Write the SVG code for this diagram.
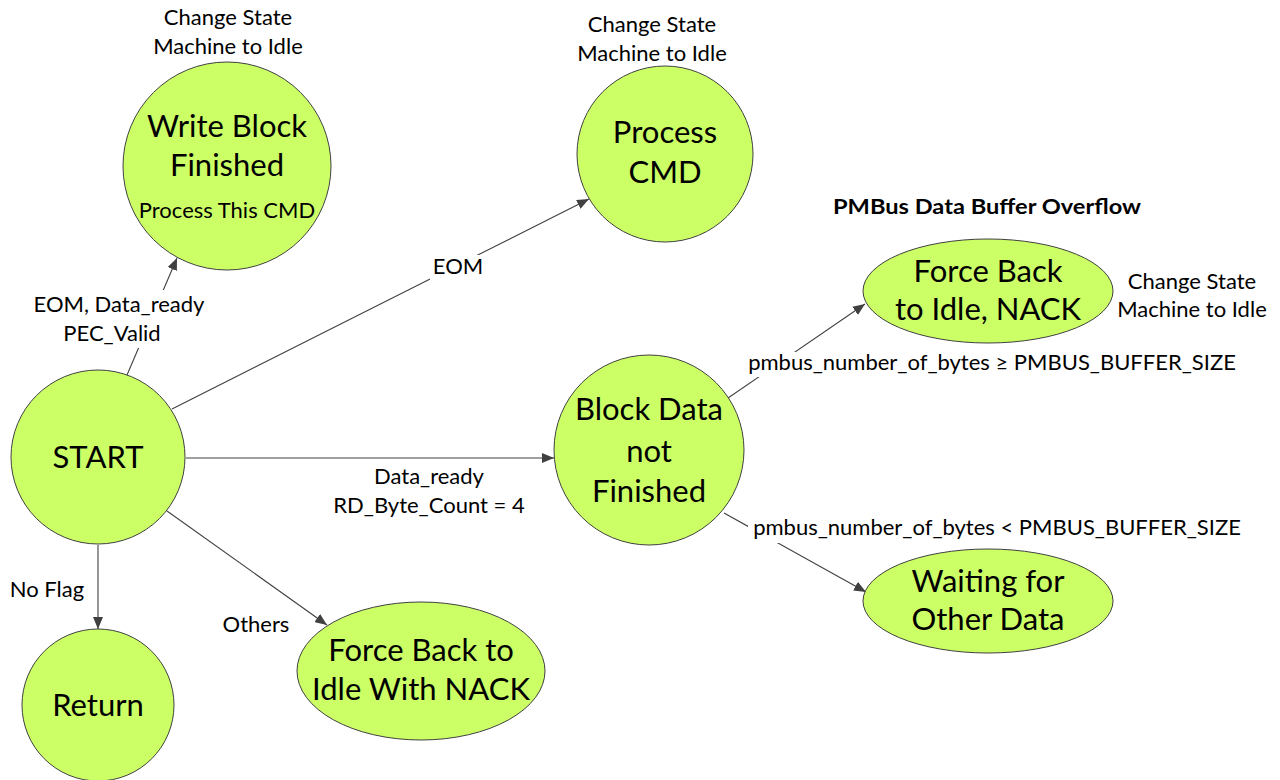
<svg xmlns="http://www.w3.org/2000/svg" width="1280" height="780" viewBox="0 0 1280 780">
<style>
.node{fill:#ccff66;stroke:#404040;stroke-width:1}
.big{font-family:Lato,"Open Sans",sans-serif;font-size:31px;fill:#000;text-anchor:middle}
.lbl{font-family:Lato,"Open Sans",sans-serif;font-size:22px;fill:#000;text-anchor:middle}
.bold{font-family:Lato,"Open Sans",sans-serif;font-size:20px;font-weight:bold;fill:#000;text-anchor:middle}
.edge{stroke:#404040;stroke-width:1.1;fill:none;marker-end:url(#arr)}
.bg{fill:#fff}
</style>
<defs>
<marker id="arr" markerWidth="12" markerHeight="10" refX="12" refY="5" orient="auto" markerUnits="userSpaceOnUse">
<path d="M0,0 L12,5 L0,10 Z" fill="#404040"/>
</marker>
</defs>
<rect width="1280" height="780" fill="#fff"/>
<g id="connectors">
<line class="edge" x1="127" y1="375" x2="177" y2="258"/>
<line class="edge" x1="172" y1="409" x2="589" y2="199"/>
<line class="edge" x1="186" y1="458" x2="554" y2="458"/>
<line class="edge" x1="167" y1="511" x2="327" y2="625"/>
<line class="edge" x1="98" y1="545" x2="98" y2="629"/>
<line class="edge" x1="728" y1="398" x2="865" y2="304"/>
<line class="edge" x1="724" y1="513" x2="866" y2="592"/>
</g>
<g id="edge-labels">
<rect class="bg" x="28" y="290" width="184" height="58"/>
<text class="lbl" x="119" y="312">EOM, Data_ready</text>
<text class="lbl" x="112" y="341">PEC_Valid</text>
<rect class="bg" x="430" y="255" width="56" height="27"/>
<text class="lbl" x="458" y="274">EOM</text>
<text class="lbl" x="429" y="484">Data_ready</text>
<text class="lbl" x="429" y="513">RD_Byte_Count = 4</text>
<text class="lbl" x="256" y="632">Others</text>
<text class="lbl" x="47" y="597">No Flag</text>
<rect class="bg" x="742" y="352" width="500" height="25"/>
<text class="lbl" x="992" y="370">pmbus_number_of_bytes ≥ PMBUS_BUFFER_SIZE</text>
<rect class="bg" x="748" y="516" width="500" height="27"/>
<text class="lbl" x="997" y="535">pmbus_number_of_bytes &lt; PMBUS_BUFFER_SIZE</text>
</g>
<g id="annotations">
<text class="lbl" x="228" y="25">Change State</text>
<text class="lbl" x="228" y="54">Machine to Idle</text>
<text class="lbl" x="652" y="32">Change State</text>
<text class="lbl" x="652" y="61">Machine to Idle</text>
<text class="bold" x="987" y="214" textLength="308" lengthAdjust="spacingAndGlyphs">PMBus Data Buffer Overflow</text>
<text class="lbl" x="1192" y="289">Change State</text>
<text class="lbl" x="1192" y="317">Machine to Idle</text>
</g>
<g id="write-block">
<circle class="node" cx="227" cy="166" r="104"/>
<text class="big" x="227" y="137">Write Block</text>
<text class="big" x="227" y="176">Finished</text>
<text class="lbl" x="227" y="218">Process This CMD</text>
</g>
<g id="process-cmd">
<circle class="node" cx="665" cy="154" r="88"/>
<text class="big" x="665" y="143">Process</text>
<text class="big" x="665" y="183">CMD</text>
</g>
<g id="start">
<circle class="node" cx="98" cy="457" r="87"/>
<text class="big" x="98" y="468">START</text>
</g>
<g id="return">
<circle class="node" cx="98" cy="705" r="76"/>
<text class="big" x="98" y="716">Return</text>
</g>
<g id="block-data">
<circle class="node" cx="649" cy="450" r="95"/>
<text class="big" x="649" y="420">Block Data</text>
<text class="big" x="649" y="462">not</text>
<text class="big" x="649" y="502">Finished</text>
</g>
<g id="force-back-nack">
<ellipse class="node" cx="988" cy="291" rx="125" ry="52"/>
<text class="big" x="988" y="282">Force Back</text>
<text class="big" x="988" y="320">to Idle, NACK</text>
</g>
<g id="waiting">
<ellipse class="node" cx="988" cy="601" rx="125" ry="52"/>
<text class="big" x="988" y="592">Waiting for</text>
<text class="big" x="988" y="630">Other Data</text>
</g>
<g id="force-back-with-nack">
<ellipse class="node" cx="421" cy="671" rx="124" ry="69"/>
<text class="big" x="421" y="661">Force Back to</text>
<text class="big" x="421" y="700">Idle With NACK</text>
</g>
</svg>
